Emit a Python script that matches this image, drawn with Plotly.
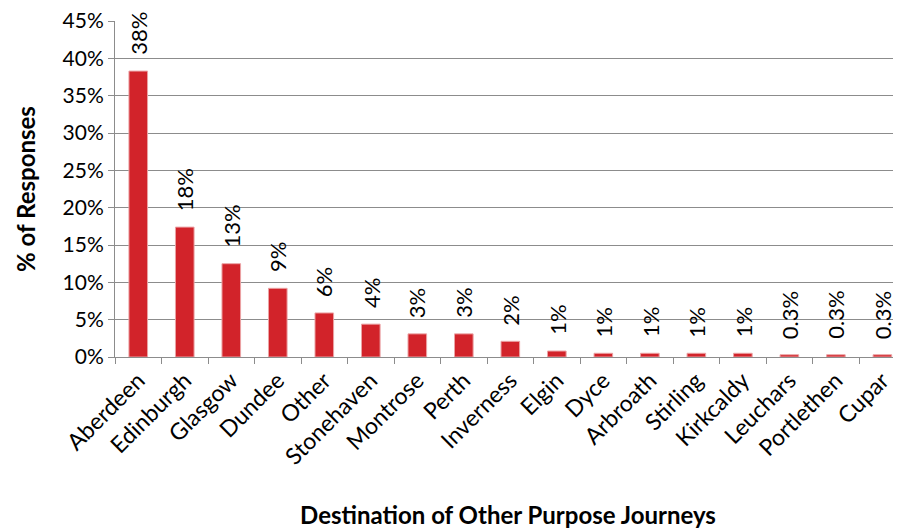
import plotly.graph_objects as go

places = ["Aberdeen", "Edinburgh", "Glasgow", "Dundee", "Other", "Stonehaven",
          "Montrose", "Perth", "Inverness", "Elgin", "Dyce", "Arbroath",
          "Stirling", "Kirkcaldy", "Leuchars", "Portlethen", "Cupar"]
share = [0.383, 0.174, 0.125, 0.092, 0.059, 0.044, 0.031, 0.031, 0.021,
         0.008, 0.005, 0.005, 0.005, 0.005, 0.003, 0.003, 0.003]
labels = ["38%", "18%", "13%", "9%", "6%", "4%", "3%", "3%", "2%",
          "1%", "1%", "1%", "1%", "1%", "0.3%", "0.3%", "0.3%"]
yticks = [0, 0.05, 0.10, 0.15, 0.20, 0.25, 0.30, 0.35, 0.40, 0.45]

font = "Lato, 'Open Sans', sans-serif"

fig = go.Figure()
fig.add_trace(go.Bar(
    x=places, y=share,
    marker=dict(color="#D2232A", line=dict(color="#EBA3A5", width=1)),
    width=0.4,
))

# data labels, rotated like Excel
for p, v, t in zip(places, share, labels):
    fig.add_annotation(x=p, y=v, text=t, textangle=-90, showarrow=False,
                       xanchor="center", yanchor="bottom", yshift=14,
                       font=dict(size=22, color="black"))

# page adds ~8px offset, margins compensate for that
fig.update_layout(
    width=893, height=521,
    margin=dict(l=107, r=0, t=13, b=172),
    plot_bgcolor="white", paper_bgcolor="white",
    showlegend=False,
    font=dict(family=font, color="black"),
)
fig.update_yaxes(
    range=[0, 0.4501], tickvals=yticks, tickformat=".0%", automargin=False,
    ticklabeloverflow="allow",
    tickfont=dict(size=21), showgrid=True, gridcolor="#8c8c8c", gridwidth=1,
    showline=True, linecolor="#8c8c8c", ticks="outside", ticklen=6,
    tickcolor="#8c8c8c", zeroline=False,
    title=dict(text="<b>% of Responses</b>", font=dict(size=24), standoff=20),
)
fig.update_xaxes(
    range=[-0.5, 16.4], ticklabeloverflow="allow",
    tickangle=-45, tickfont=dict(size=23), automargin=False,
    showline=True, linecolor="#8c8c8c", ticks="outside", ticklen=6,
    tickcolor="#8c8c8c", tickson="boundaries",
    title=dict(text="<b>Destination of Other Purpose Journeys</b>",
               font=dict(size=24), standoff=38),
)

fig.write_html("out.html")
